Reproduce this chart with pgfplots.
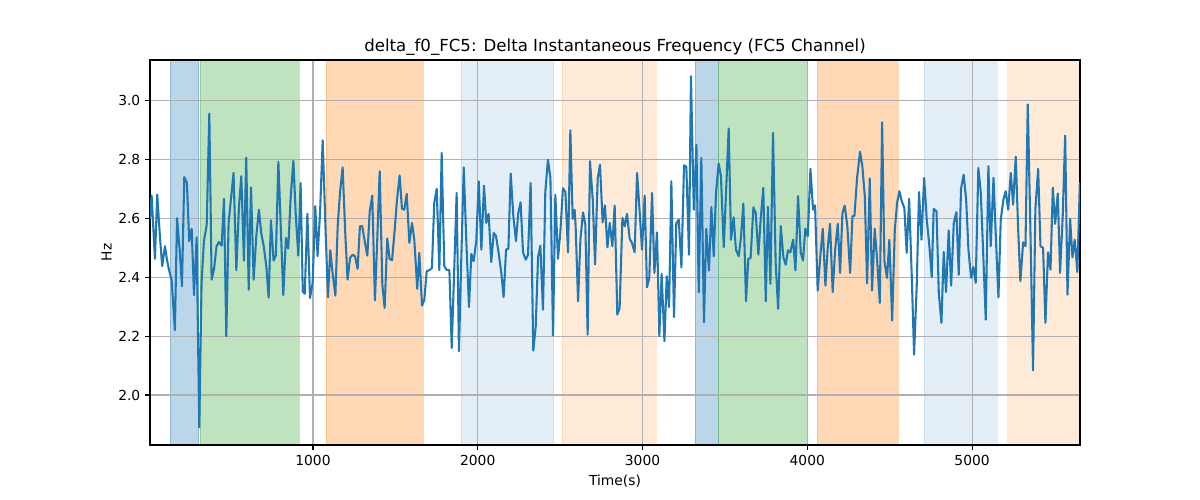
\documentclass[border=0pt]{standalone}
\usepackage{pgfplots}
\pgfplotsset{compat=1.18}
\usepackage{fontspec}
\setmainfont{DejaVu Sans}
\definecolor{tabblue}{HTML}{1F77B4}
\definecolor{tabgreen}{HTML}{2CA02C}
\definecolor{taborange}{HTML}{FF7F0E}
\definecolor{gridgray}{HTML}{B0B0B0}
\begin{document}
\begin{tikzpicture}
\pgfplotsset{set layers}
\begin{axis}[
  at={(0,0)}, anchor=south west,
  scale only axis,
  width=669.6bp, height=277.2bp,
  xmin=11, xmax=5655,
  ymin=1.83, ymax=3.139,
  clip mode=individual,
  xtick={1000,2000,3000,4000,5000},
  ytick={2.0,2.2,2.4,2.6,2.8,3.0},
  /pgf/number format/assume math mode=true,
  x tick label style={/pgf/number format/.cd, set thousands separator={}, fixed},
  y tick label style={/pgf/number format/.cd, fixed, fixed zerofill, precision=1},
  tick label style={font=\fontsize{10}{12}\selectfont},
  grid=major,
  major grid style={color=gridgray, line width=0.8pt},
  axis line style={line width=0.8pt},
  tick style={black, line width=0.8pt},
  major tick length=3.5pt,
  tick align=outside,
  xtick pos=bottom, ytick pos=left,
  xlabel={Time(s)},
  ylabel={Hz},
  label style={font=\fontsize{10}{12}\selectfont},
  xlabel style={yshift=0pt},
  ylabel style={yshift=-2pt},
  title={delta\_f0\_FC5: Delta Instantaneous Frequency (FC5 Channel)},
  title style={font=\fontsize{12}{14}\selectfont, yshift=-6pt},
]
% shaded spans
\addplot[on layer=axis background, fill=tabblue, fill opacity=0.3, draw=tabblue, draw opacity=0.3] coordinates {(132,1.83) (132,3.139) (306,3.139) (306,1.83)} -- cycle;
\addplot[on layer=axis background, fill=tabgreen, fill opacity=0.3, draw=tabgreen, draw opacity=0.3] coordinates {(314,1.83) (314,3.139) (917,3.139) (917,1.83)} -- cycle;
\addplot[on layer=axis background, fill=taborange, fill opacity=0.3, draw=taborange, draw opacity=0.3] coordinates {(1079,1.83) (1079,3.139) (1670,3.139) (1670,1.83)} -- cycle;
\addplot[on layer=axis background, fill=tabblue, fill opacity=0.12, draw=tabblue, draw opacity=0.12] coordinates {(1898,1.83) (1898,3.139) (2460,3.139) (2460,1.83)} -- cycle;
\addplot[on layer=axis background, fill=taborange, fill opacity=0.16, draw=taborange, draw opacity=0.16] coordinates {(2511,1.83) (2511,3.139) (3084,3.139) (3084,1.83)} -- cycle;
\addplot[on layer=axis background, fill=tabblue, fill opacity=0.3, draw=tabblue, draw opacity=0.3] coordinates {(3320,1.83) (3320,3.139) (3459,3.139) (3459,1.83)} -- cycle;
\addplot[on layer=axis background, fill=tabgreen, fill opacity=0.3, draw=tabgreen, draw opacity=0.3] coordinates {(3459,1.83) (3459,3.139) (3999,3.139) (3999,1.83)} -- cycle;
\addplot[on layer=axis background, fill=taborange, fill opacity=0.3, draw=taborange, draw opacity=0.3] coordinates {(4060,1.83) (4060,3.139) (4553,3.139) (4553,1.83)} -- cycle;
\addplot[on layer=axis background, fill=tabblue, fill opacity=0.12, draw=tabblue, draw opacity=0.12] coordinates {(4710,1.83) (4710,3.139) (5154,3.139) (5154,1.83)} -- cycle;
\addplot[on layer=axis background, fill=taborange, fill opacity=0.16, draw=none] coordinates {(5212,1.83) (5212,3.139) (5655,3.139) (5655,1.83)} -- cycle;
% signal
\addplot[tabblue, line width=1.5pt, no marks, line join=round] coordinates {
(11,2.600) (21,2.678) (41,2.463) (55,2.681) (71,2.540) (85,2.438) (102,2.506) (114,2.460)
(126,2.426) (142,2.392) (162,2.220) (175,2.601) (191,2.494) (205,2.370) (219,2.741) (235,2.721)
(249,2.523) (264,2.565) (278,2.340) (294,2.536) (310,1.890) (324,2.381) (338,2.523) (355,2.577)
(371,2.957) (385,2.392) (399,2.426) (415,2.506) (429,2.520) (446,2.508) (460,2.667) (474,2.200)
(488,2.585) (502,2.664) (518,2.755) (535,2.424) (551,2.642) (565,2.744) (581,2.457) (595,2.807)
(610,2.358) (624,2.706) (640,2.392) (656,2.540) (672,2.630) (686,2.551) (701,2.506) (717,2.438)
(731,2.331) (745,2.594) (761,2.457) (775,2.475) (790,2.793) (806,2.551) (820,2.340) (836,2.534)
(850,2.498) (864,2.664) (881,2.796) (895,2.619) (911,2.474) (925,2.721) (938,2.352) (950,2.344)
(966,2.616) (982,2.330) (998,2.381) (1014,2.642) (1028,2.472) (1043,2.619) (1059,2.866) (1075,2.585)
(1091,2.332) (1105,2.492) (1119,2.415) (1136,2.338) (1150,2.574) (1164,2.687) (1180,2.774) (1196,2.551)
(1210,2.392) (1225,2.466) (1241,2.477) (1255,2.472) (1271,2.429) (1285,2.574) (1299,2.574) (1314,2.523)
(1330,2.474) (1344,2.621) (1360,2.678) (1376,2.322) (1390,2.526) (1405,2.761) (1421,2.375) (1435,2.296)
(1451,2.532) (1465,2.463) (1480,2.458) (1496,2.562) (1510,2.664) (1526,2.747) (1540,2.633) (1554,2.630)
(1569,2.684) (1585,2.517) (1601,2.585) (1615,2.528) (1633,2.361) (1645,2.483) (1662,2.304) (1676,2.324)
(1690,2.421) (1706,2.424) (1722,2.432) (1736,2.653) (1751,2.701) (1767,2.424) (1781,2.823) (1797,2.438)
(1811,2.426) (1828,2.424) (1842,2.160) (1856,2.404) (1872,2.687) (1886,2.149) (1900,2.460) (1915,2.774)
(1931,2.517) (1947,2.299) (1961,2.480) (1975,2.455) (1991,2.523) (2006,2.726) (2022,2.494) (2038,2.712)
(2052,2.585) (2066,2.616) (2082,2.452) (2097,2.551) (2111,2.540) (2127,2.483) (2143,2.415) (2157,2.333)
(2172,2.494) (2186,2.498) (2200,2.753) (2216,2.608) (2232,2.523) (2246,2.619) (2260,2.655) (2275,2.485)
(2291,2.460) (2305,2.477) (2321,2.721) (2337,2.151) (2352,2.234) (2366,2.469) (2380,2.508) (2396,2.290)
(2410,2.690) (2426,2.800) (2441,2.738) (2457,2.203) (2471,2.681) (2487,2.463) (2501,2.551) (2517,2.703)
(2532,2.690) (2548,2.485) (2562,2.900) (2576,2.599) (2588,2.630) (2594,2.574) (2609,2.319) (2623,2.528)
(2639,2.621) (2653,2.579) (2667,2.205) (2681,2.795) (2698,2.664) (2712,2.444) (2728,2.736) (2742,2.783)
(2758,2.587) (2772,2.645) (2787,2.502) (2801,2.585) (2817,2.506) (2831,2.644) (2847,2.273) (2861,2.296)
(2878,2.602) (2892,2.574) (2906,2.616) (2922,2.531) (2936,2.517) (2952,2.485) (2967,2.755) (2983,2.619)
(2997,2.494) (3013,2.678) (3027,2.366) (3041,2.398) (3058,2.687) (3072,2.415) (3088,2.553) (3102,2.200)
(3116,2.412) (3133,2.183) (3147,2.404) (3161,2.299) (3175,2.727) (3191,2.265) (3205,2.585) (3220,2.596)
(3236,2.434) (3252,2.781) (3266,2.776) (3282,2.477) (3294,3.084) (3311,2.630) (3327,2.851) (3341,2.349)
(3357,2.806) (3373,2.247) (3387,2.565) (3403,2.423) (3418,2.639) (3432,2.472) (3446,2.687) (3462,2.787)
(3476,2.744) (3493,2.503) (3523,2.906) (3537,2.528) (3553,2.604) (3567,2.494) (3584,2.472) (3598,2.540)
(3612,2.651) (3628,2.319) (3642,2.463) (3656,2.466) (3673,2.638) (3687,2.619) (3703,2.477) (3717,2.596)
(3733,2.704) (3748,2.319) (3761,2.640) (3776,2.378) (3792,2.891) (3808,2.449) (3823,2.293) (3839,2.574)
(3855,2.468) (3869,2.443) (3883,2.492) (3897,2.485) (3914,2.528) (3928,2.424) (3944,2.676) (3960,2.485)
(3974,2.457) (3988,2.566) (4003,2.540) (4019,2.769) (4035,2.630) (4047,2.645) (4063,2.355) (4079,2.472)
(4094,2.565) (4110,2.372) (4124,2.500) (4138,2.582) (4154,2.350) (4169,2.494) (4185,2.582) (4199,2.415)
(4213,2.617) (4227,2.644) (4243,2.574) (4260,2.415) (4274,2.608) (4286,2.608) (4302,2.738) (4320,2.827)
(4334,2.778) (4349,2.676) (4363,2.379) (4379,2.736) (4393,2.355) (4409,2.565) (4423,2.466) (4440,2.313)
(4454,2.927) (4468,2.455) (4484,2.398) (4498,2.528) (4515,2.253) (4531,2.562) (4545,2.653) (4559,2.693)
(4573,2.659) (4589,2.636) (4603,2.483) (4618,2.667) (4634,2.404) (4648,2.137) (4664,2.370) (4678,2.690)
(4693,2.528) (4709,2.738) (4725,2.596) (4741,2.506) (4755,2.401) (4767,2.633) (4784,2.625) (4798,2.347)
(4814,2.245) (4828,2.486) (4842,2.350) (4858,2.560) (4873,2.372) (4889,2.585) (4905,2.622) (4919,2.409)
(4933,2.701) (4949,2.749) (4964,2.664) (4978,2.494) (4994,2.398) (5008,2.435) (5022,2.381) (5038,2.772)
(5053,2.687) (5069,2.460) (5083,2.256) (5099,2.778) (5113,2.506) (5130,2.738) (5144,2.540) (5160,2.332)
(5174,2.596) (5190,2.664) (5204,2.693) (5219,2.630) (5235,2.755) (5249,2.647) (5265,2.810) (5279,2.574)
(5293,2.387) (5310,2.519) (5324,2.506) (5338,2.988) (5354,2.562) (5370,2.084) (5384,2.630) (5401,2.769)
(5415,2.506) (5431,2.500) (5445,2.245) (5461,2.485) (5476,2.426) (5490,2.705) (5504,2.582) (5520,2.685)
(5534,2.415) (5550,2.608) (5565,2.882) (5579,2.341) (5595,2.599) (5609,2.468) (5623,2.528) (5639,2.418)
(5654,2.723)
};
\end{axis}
\path[use as bounding box] (-108bp,-39.6bp) rectangle (756bp,320.4bp);
\end{tikzpicture}
\end{document}
